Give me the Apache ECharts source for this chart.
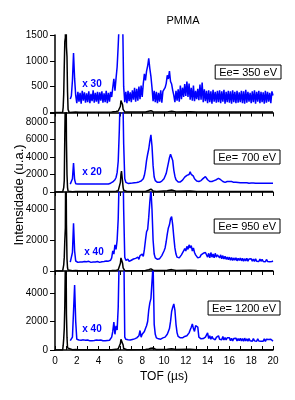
<!DOCTYPE html>
<html>
<head>
<meta charset="utf-8">
<script src="https://cdn.jsdelivr.net/npm/echarts@6/dist/echarts.min.js"></script>
<style>
html,body{margin:0;padding:0;background:#fff;}
#c{width:295px;height:400px;}
</style>
</head>
<body>
<div id="c"></div>
<script>
// ---------- DATA ----------
const panelLabels = ['Ee= 350 eV', 'Ee= 700 eV', 'Ee= 950 eV', 'Ee= 1200 eV'];
const scaleLabels = ['x 30', 'x 20', 'x 40', 'x 40'];
const yMax = [1500, 9000, 5100, 5500];
const yInterval = [500, 2000, 2000, 2000];
const xTicks = [0, 2, 4, 6, 8, 10, 12, 14, 16, 18, 20];

// raw spectrum (black) sample times, µs
const tBlack = [0,0.7,0.75,0.8,0.85,0.9,0.95,1.0,1.05,1.1, 1.15,1.2,1.3,1.6,1.75,1.9,2.2,5.2,5.6,5.8,
  5.9,6.0,6.05,6.1,6.15,6.2,6.25,6.3,6.4,6.6, 8.3,8.6,8.8,9.0,9.3,10.3,10.7,11.1,12.4,13, 20];
const black1 = [0,0,100,360,900,1370,1450,2200,1270,1080, 400,60,0,5,38,8,5,8,20,30,
  45,120,230,250,240,150,60,30,12,10, 10,25,35,15,10,12,25,12,15,10, 8];
const black2 = [0,0,150,500,1300,6500,6600,15000,5800,2000, 500,100,20,40,170,50,45,50,80,150,
  350,1100,2000,2390,2200,1200,500,200,80,50, 60,200,320,120,60,130,220,80,110,60, 50];
const black3 = [0,0,100,400,900,2000,2800,9000,3000,800, 200,60,10,20,80,25,20,25,40,80,
  200,500,850,975,900,500,200,80,30,20, 30,90,140,50,25,50,90,30,45,25, 20];
const black4 = [0,0,300,800,1500,3100,3200,9000,2500,900, 150,40,10,20,115,30,20,25,45,90,
  200,450,750,880,900,800,350,100,30,20, 30,75,120,140,30,45,80,30,45,25, 20];

// magnified spectrum (blue) sampled every 0.1 µs from 1.4 to 20.0 µs
const blueStart = 1.4, blueStep = 0.1;
const blue1 = [260,320,620,1150,650,330,
  180,400,210,380,170,420,230,390,190,370,
  200,410,180,360,220,430,190,380,210,400,
  170,390,230,410,190,370,200,420,180,380,
  210,400,300,480,650,420,660,880,1300,1800,
  2200,2500,1900,500,200,400,180,420,220,390,
  200,430,250,480,210,460,230,500,260,520,
  300,560,750,620,800,900,1050,850,700,480,
  220,420,200,400,180,380,210,430,190,410,
  420,480,560,720,650,800,600,550,430,330,
  200,420,230,450,210,520,260,480,300,550,
  320,600,300,560,250,480,230,520,220,420,
  260,460,240,540,250,580,200,450,220,420,
  180,430,200,410,170,440,210,400,190,420,
  200,430,180,410,210,440,170,400,200,420,
  190,410,170,430,200,400,180,420,190,390,
  200,420,180,410,170,440,190,400,210,380,
  180,410,200,430,170,400,210,420,180,400,
  200,390,170,420,190,400,210,380,180,410,
  330];
const blue2 = [900,920,1500,3300,1400,950,
  920,900,910,900,920,900,910,900,920,900,
  910,900,920,900,910,900,920,910,900,920,
  910,900,920,900,910,920,900,910,930,920,
  950,1000,1050,1150,1250,1400,1650,2200,3500,7000,
  12000,14000,13000,5500,1500,1100,1000,980,1000,1000,
  1000,1020,1000,1050,1030,1080,1100,1150,1200,1250,
  1300,1500,1900,2600,3600,4300,4900,5800,6500,5200,
  3000,1700,1300,1150,1100,1080,1100,1150,1250,1400,
  1500,1700,2100,2700,3300,3900,4300,4480,3600,2500,
  1800,1400,1250,1150,1100,1150,1200,1350,1500,1700,
  1800,1900,2100,2000,2300,2000,2100,1800,1500,1350,
  1250,1200,1200,1250,1300,1400,1550,1700,1750,1600,
  1400,1250,1200,1150,1200,1250,1300,1350,1400,1500,
  1560,1500,1400,1300,1200,1150,1100,1150,1200,1150,
  1200,1250,1200,1150,1100,1080,1100,1050,1080,1050,
  1050,1080,1050,1020,1050,1080,1050,1020,1000,1030,
  1020,1000,1030,1010,1000,1020,1000,990,1010,1000,
  990,1010,1000,980,1000,990,1000,980,990,1000,
  990];
const blue3 = [580,620,1200,3100,1300,650,
  600,560,620,580,640,590,560,620,580,600,
  570,630,590,560,610,580,640,590,570,620,
  590,560,630,600,570,620,580,650,600,640,
  620,700,850,1300,1100,1700,1400,2000,3400,6500,
  9000,10000,9000,4000,900,700,640,760,620,700,
  700,640,780,660,820,700,900,760,1000,880,
  1100,950,1400,2000,2550,2700,3500,4500,5300,4000,
  2000,1100,850,950,760,880,800,920,1000,1150,
  1300,1500,1900,2400,2800,3000,3400,3530,3000,2200,
  1500,1100,900,1000,850,950,1050,1150,1300,1450,
  1300,1600,1400,1700,1500,1650,1300,1500,1200,1050,
  950,850,950,900,1050,1000,1150,1250,1200,1100,
  900,1150,850,1200,900,1100,850,1150,900,1050,
  1170,850,1050,800,1000,780,950,760,900,740,
  900,700,880,680,850,700,860,660,820,680,
  840,660,820,640,800,660,820,640,780,660,
  800,640,780,620,790,640,760,620,780,630,
  760,620,740,600,750,620,730,600,720,620,
  650];
const blue4 = [650,680,900,2700,4560,2000,
  750,650,700,640,690,660,710,650,680,640,
  700,660,640,690,650,710,660,640,700,650,
  680,640,700,660,650,690,640,710,660,700,
  680,750,900,1300,1950,1100,1700,1400,3000,7000,
  9000,10000,9500,8000,900,750,680,720,650,700,
  680,740,700,780,720,850,780,1000,1365,900,
  1100,1000,1300,1500,1700,2000,2800,3300,3600,4800,
  6000,1800,1100,850,900,780,850,760,900,850,
  800,900,1000,1100,1300,1500,2000,2700,3000,3230,
  2800,1800,1200,950,900,850,800,850,900,950,
  900,1000,1000,1200,1400,1600,1830,1500,1300,1700,
  1830,1600,900,800,780,820,800,850,900,1000,
  1200,800,1000,750,950,800,900,720,880,760,
  1000,760,900,720,950,700,880,700,860,720,
  850,650,820,640,800,660,830,640,800,650,
  820,640,800,620,830,640,790,620,800,640,
  780,620,800,640,780,610,790,630,770,620,
  760,620,780,600,760,620,740,600,750,620,
  620];

const blacks = [black1, black2, black3, black4];
const blues = [blue1, blue2, blue3, blue4];

// ---------- LAYOUT ----------
const gridTops = [35, 113, 192.5, 271.5];
const gridHeights = [77.5, 79, 78.5, 78.5];
const boxPos = [[281, 65], [280, 150], [280, 219], [280, 301]];
const scalePos = [[92, 84], [92, 172], [94, 252], [92, 329]];

const regular = '"Liberation Sans",Arial,sans-serif';

const grids = [], xAxes = [], yAxes = [], series = [], graphics = [];
for (let i = 0; i < 4; i++) {
  grids.push({left: 55, right: 22, top: gridTops[i], height: gridHeights[i]});
  xAxes.push({
    gridIndex: i, type: 'value', min: 0, max: 20, interval: 1,
    axisLine: {show: true, onZero: false, lineStyle: {color: '#000', width: 1.5}},
    axisTick: {show: true, inside: i === 3, length: 4, lineStyle: {color: '#000', width: 1}},
    axisLabel: {show: i === 3, color: '#000', fontFamily: regular, fontSize: 10, margin: 6,
      formatter: v => (xTicks.indexOf(v) >= 0 ? String(v) : '')},
    splitLine: {show: false}
  });
  const iv = yInterval[i];
  yAxes.push({
    gridIndex: i, type: 'value', min: 0, max: yMax[i], interval: iv,
    axisLine: {show: true, lineStyle: {color: '#000', width: 1.5}},
    axisTick: {show: true, inside: false, length: 5, lineStyle: {color: '#000', width: 1}},
    axisLabel: {color: '#000', fontFamily: regular, fontSize: 10, margin: 7,
      formatter: v => (v % iv === 0 ? String(v) : '')},
    splitLine: {show: false}
  });
  const bl = blues[i];
  series.push({
    type: 'line', xAxisIndex: i, yAxisIndex: i, symbol: 'none', clip: true,
    lineStyle: {color: '#0000ff', width: 1.5}, animation: false,
    data: bl.map((v, k) => [Math.round((blueStart + k * blueStep) * 10) / 10, v])
  });
  const bk = blacks[i];
  series.push({
    type: 'line', xAxisIndex: i, yAxisIndex: i, symbol: 'none', clip: true,
    lineStyle: {color: '#000', width: 1.5}, animation: false,
    data: bk.map((v, k) => [tBlack[k], v])
  });
  graphics.push({
    type: 'text', x: boxPos[i][0], y: boxPos[i][1],
    style: {text: panelLabels[i], font: '11px ' + regular, fill: '#000',
      align: 'right', verticalAlign: 'top', borderColor: '#000', borderWidth: 1,
      padding: [1, 4, 0, 4], lineHeight: 13}
  });
  graphics.push({
    type: 'text', x: scalePos[i][0], y: scalePos[i][1],
    style: {text: scaleLabels[i], font: 'bold 10px ' + regular, fill: '#0000ff',
      align: 'center', verticalAlign: 'middle'}
  });
}
graphics.push({type: 'text', x: 183, y: 21,
  style: {text: 'PMMA', font: '11px ' + regular, fill: '#000', align: 'center', verticalAlign: 'middle'}});
graphics.push({type: 'text', x: 164, y: 377,
  style: {text: 'TOF (µs)', font: '12px ' + regular, fill: '#000', align: 'center', verticalAlign: 'middle'}});
graphics.push({type: 'text', x: 19, y: 195, rotation: Math.PI / 2,
  style: {text: 'Intensidade (u.a.)', font: '13px ' + regular, fill: '#000', align: 'center', verticalAlign: 'middle'}});

const chart = echarts.init(document.getElementById('c'), null, {renderer: 'canvas'});
chart.setOption({
  animation: false,
  backgroundColor: '#fff',
  grid: grids, xAxis: xAxes, yAxis: yAxes, series: series, graphic: graphics
});
</script>
</body>
</html>
